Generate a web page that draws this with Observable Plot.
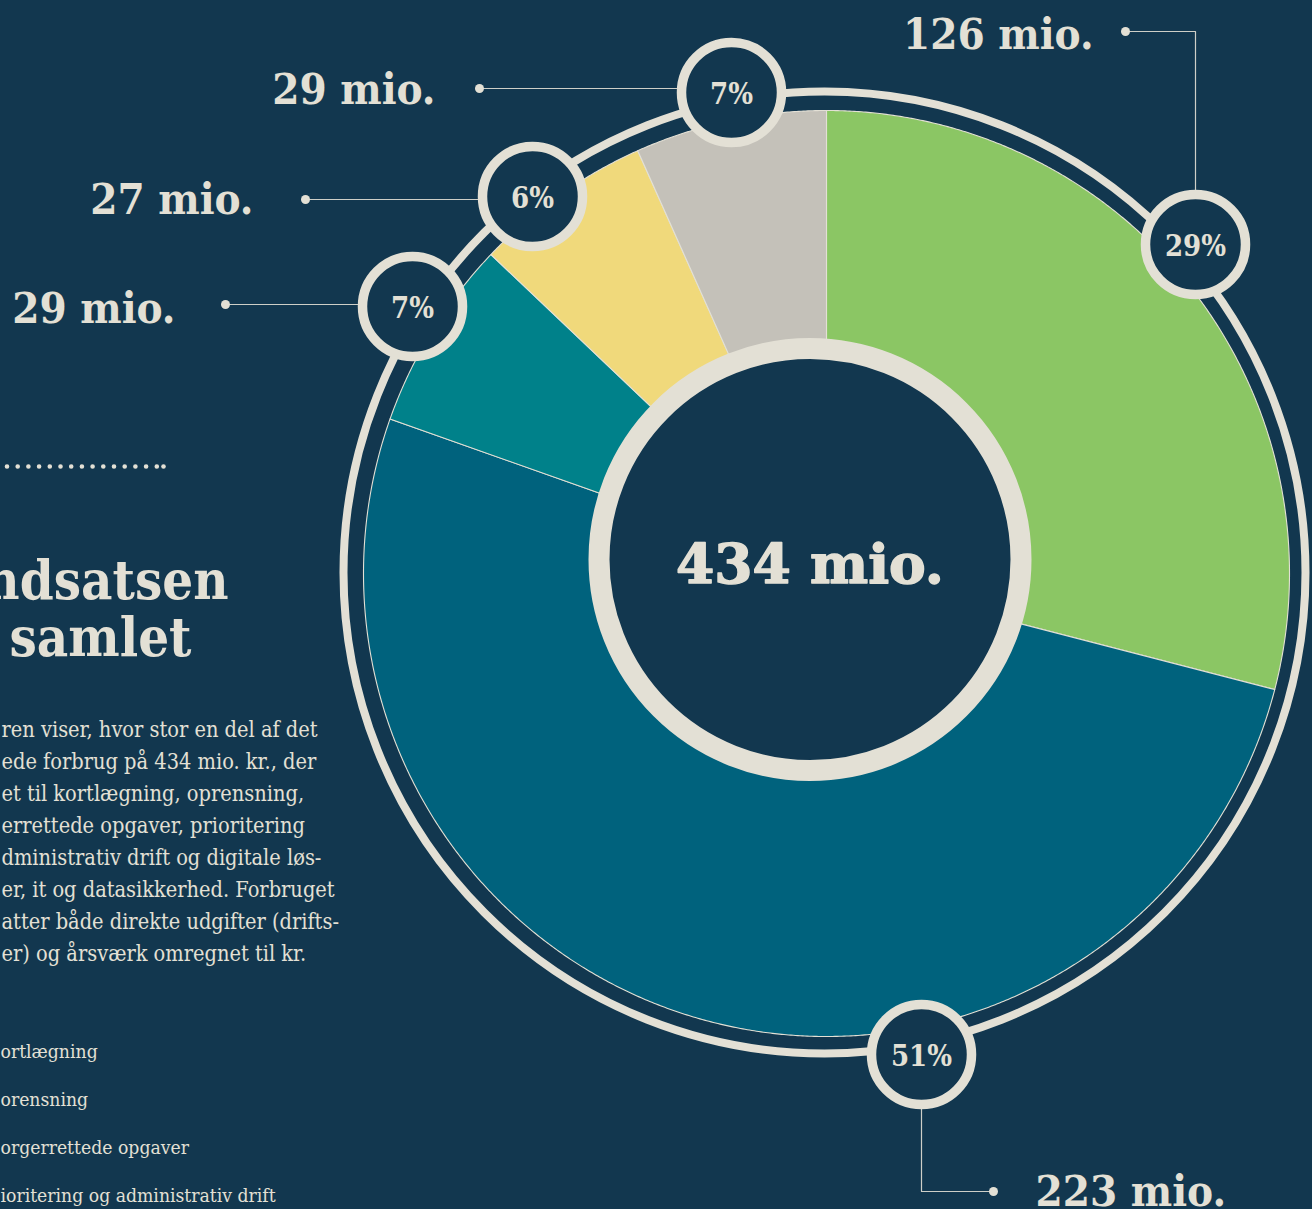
<!DOCTYPE html>
<html><head><meta charset="utf-8">
<script src="https://cdn.jsdelivr.net/npm/d3@7"></script>
<script src="https://cdn.jsdelivr.net/npm/@observablehq/plot@0.6"></script>
<style>html,body{margin:0;padding:0;background:#12374F;overflow:hidden}svg{display:block}</style>
</head><body><div id="chart"></div>
<script>
// ---- data ----
const categories = ["Kortlægning", "Oprensning", "Borgerrettede opgaver", "Prioritering og administrativ drift", "Digitale løsninger, it og datasikkerhed"];
const values = [126, 223, 29, 27, 29];           // mio. kr., clockwise from 12 o'clock
const colors = ["#8BC664", "#00627D", "#00818A", "#F0D97B", "#C4C1B9"];
const titleLines = ["ndsatsen", "samlet"];
const bodyLines = [
  "ren viser, hvor stor en del af det",
  "ede forbrug på 434 mio. kr., der",
  "et til kortlægning, oprensning,",
  "errettede opgaver, prioritering",
  "dministrativ drift og digitale løs-",
  "er, it og datasikkerhed. Forbruget",
  "atter både direkte udgifter (drifts-",
  "er) og årsværk omregnet til kr."
];
const legendLines = ["ortlægning", "orensning", "orgerrettede opgaver", "ioritering og administrativ drift"];

// ---- layout ----
const W = 1312, H = 1209;
const BG = "#12374F", LIGHT = "#E3E0D5";
const SERIF = '"DejaVu Serif Condensed", "DejaVu Serif", serif';
const pie = {x: 826, y: 573, r: 463};
const ring = {x: 824, y: 572, r: 481};
const hole = {x: 809.5, y: 559, r: 211};
const badgePos = [[1195, 244], [921, 1054], [412, 306], [532, 196], [731, 92]];
const leaderPaths = [
  [[1125, 31], [1195, 31], [1195, 190]],
  [[921, 1108], [921, 1191], [993, 1191]],
  [[225, 304], [362, 304]],
  [[305, 199], [482, 199]],
  [[479, 88], [681, 88]]
];
const leaderDots = [[1125, 31], [993, 1191], [225, 304], [305, 199], [479, 88]];
const labelPos = [
  {x: 1093, y: 48, anchor: "end"},
  {x: 1035, y: 1205, anchor: "start"},
  {x: 175, y: 322, anchor: "end"},
  {x: 253, y: 213, anchor: "end"},
  {x: 435, y: 103, anchor: "end"}
];

const total = d3.sum(values);
const arcs = d3.pie().sort(null).value(d => d)(values);
const slices = arcs.map((a, i) => {
  const pts = [[pie.x, pie.y]];
  const n = Math.max(4, Math.ceil((a.endAngle - a.startAngle) / 0.005));
  for (let k = 0; k <= n; k++) {
    const t = a.startAngle + (a.endAngle - a.startAngle) * k / n;
    pts.push([pie.x + pie.r * Math.sin(t), pie.y - pie.r * Math.cos(t)]);
  }
  return {pts, color: colors[i], category: categories[i]};
});

const badges = values.map((v, i) => ({
  x: badgePos[i][0], y: badgePos[i][1],
  pct: Math.round(v / total * 100) + "%"
}));
const labels = values.map((v, i) => ({...labelPos[i], text: `${v} mio.`}));
const leaders = leaderPaths.flatMap((p, i) => p.map(([x, y]) => ({x, y, i})));
const labelStyle = {x: "x", y: "y", text: "text", fill: LIGHT, fontFamily: SERIF, fontWeight: "bold", fontSize: 43.5, lineAnchor: "bottom"};

const plot = Plot.plot({
  width: W, height: H, margin: 0,
  x: {domain: [0, W], range: [0, W], axis: null},
  y: {domain: [0, H], range: [0, H], axis: null},
  style: {background: "transparent", overflow: "hidden"},
  marks: [
    ...slices.map(s => Plot.line(s.pts, {x: d => d[0], y: d => d[1], fill: s.color, stroke: LIGHT, strokeWidth: 1.1, curve: "linear-closed"})),
    Plot.dot([ring], {x: "x", y: "y", r: ring.r, fill: "none", stroke: LIGHT, strokeWidth: 8}),
    Plot.dot([hole], {x: "x", y: "y", r: hole.r, fill: BG, stroke: LIGHT, strokeWidth: 21}),
    Plot.text([`${total} mio.`], {x: hole.x, y: 582, text: d => d, fill: LIGHT, stroke: LIGHT, strokeWidth: 1.5, fontFamily: '"DejaVu Serif", serif', fontWeight: 900, fontSize: 55, lineAnchor: "bottom", textAnchor: "middle"}),
    Plot.line(leaders, {x: "x", y: "y", z: "i", stroke: LIGHT, strokeWidth: 1.2, strokeOpacity: 0.9}),
    Plot.dot(leaderDots, {x: d => d[0], y: d => d[1], r: 4.5, fill: LIGHT}),
    Plot.dot(badges, {x: "x", y: "y", r: 50, fill: BG, stroke: LIGHT, strokeWidth: 9.5}),
    Plot.text(badges, {x: "x", y: d => d.y + 11.5, text: "pct", fill: LIGHT, fontFamily: SERIF, fontWeight: "bold", fontSize: 29, lineAnchor: "bottom", textAnchor: "middle"}),
    Plot.text(labels.filter(d => d.anchor === "end"), {...labelStyle, textAnchor: "end"}),
    Plot.text(labels.filter(d => d.anchor === "start"), {...labelStyle, textAnchor: "start"}),
    // left panel
    Plot.ruleY([466], {x1: 7, x2: 158, stroke: LIGHT, strokeWidth: 4.6, strokeLinecap: "round", strokeDasharray: "0 10.7"}),
    Plot.dot([[163, 466]], {x: d => d[0], y: d => d[1], r: 2.3, fill: LIGHT}),
    Plot.text(titleLines, {x: [228, 191], y: [598, 655], text: d => d, fill: LIGHT, fontFamily: SERIF, fontWeight: "bold", fontSize: 54, textAnchor: "end", lineAnchor: "bottom"}),
    Plot.text(bodyLines, {x: 1, y: bodyLines.map((_, i) => 736 + 32 * i), text: d => d, fill: LIGHT, fontFamily: SERIF, fontWeight: 300, fontSize: 21.6, textAnchor: "start", lineAnchor: "bottom"}),
    Plot.text(legendLines, {x: 0, y: legendLines.map((_, i) => 1057 + 48.3 * i), text: d => d, fill: LIGHT, fontFamily: SERIF, fontWeight: 300, fontSize: 19.2, textAnchor: "start", lineAnchor: "bottom"})
  ]
});
document.getElementById("chart").append(plot);
</script>
</body></html>
